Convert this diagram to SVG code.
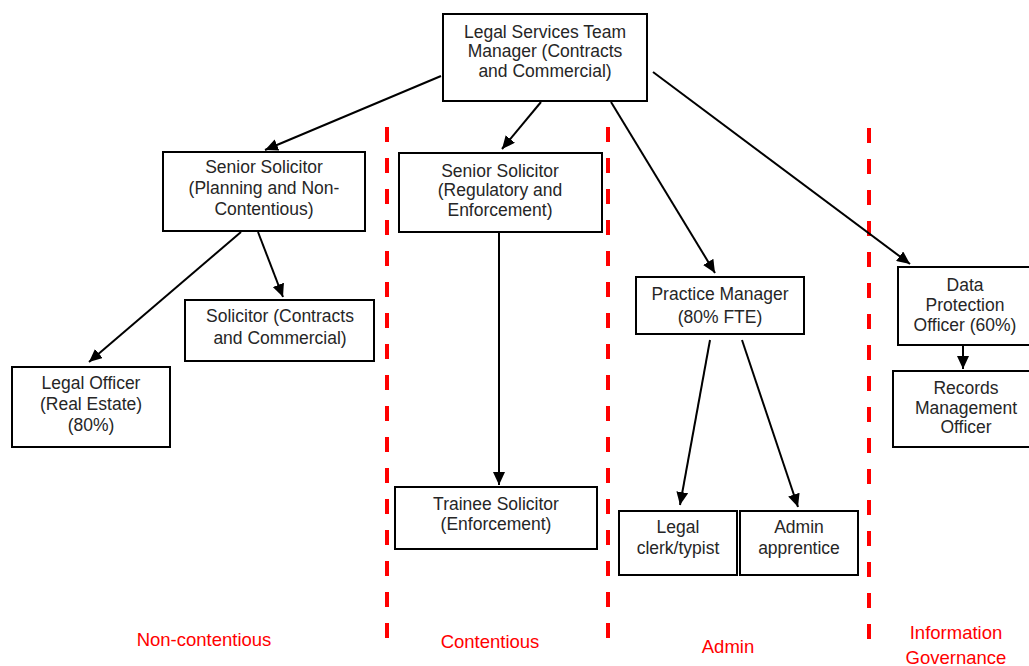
<svg xmlns="http://www.w3.org/2000/svg" width="1029" height="666" viewBox="0 0 1029 666">
<defs>
<marker id="ah" markerUnits="userSpaceOnUse" markerWidth="14" markerHeight="12" refX="13" refY="6" orient="auto">
<path d="M0,0 L13,6 L0,12 Z" fill="#000"/>
</marker>
<style>
.box{fill:#fff;stroke:#000;stroke-width:2}
.t{font-family:"Liberation Sans",Arial,sans-serif;font-size:17.5px;fill:#262626;text-anchor:middle}
.r{font-family:"Liberation Sans",Arial,sans-serif;font-size:18.5px;fill:#ff0000;text-anchor:middle}
.c{stroke:#000;stroke-width:2;fill:none;marker-end:url(#ah)}
.d{stroke:#ff0000;stroke-width:4;stroke-dasharray:15 16;fill:none}
</style>
</defs>
<rect width="1029" height="666" fill="#fff"/>
<g id="dividers">
<line class="d" x1="387" y1="127" x2="387" y2="640"/>
<line class="d" x1="608" y1="127" x2="608" y2="640"/>
<line class="d" x1="869" y1="128" x2="869" y2="640"/>
</g>
<g id="connectors">
<line class="c" x1="441" y1="76" x2="265" y2="150"/>
<line class="c" x1="541" y1="102" x2="502" y2="149"/>
<line class="c" x1="611" y1="102" x2="715" y2="273"/>
<line class="c" x1="653" y1="72" x2="910" y2="264"/>
<line class="c" x1="241" y1="232" x2="89" y2="362"/>
<line class="c" x1="258" y1="232" x2="283" y2="297"/>
<line class="c" x1="499" y1="233" x2="499" y2="485"/>
<line class="c" x1="710" y1="340" x2="680" y2="505"/>
<line class="c" x1="742" y1="340" x2="798" y2="507"/>
<line class="c" x1="963" y1="345" x2="963" y2="369"/>
</g>
<g id="manager">
<rect class="box" x="443" y="14" width="204" height="87"/>
<text class="t" x="545" y="38">Legal Services Team</text>
<text class="t" x="545" y="57">Manager (Contracts</text>
<text class="t" x="545" y="77">and Commercial)</text>
</g>
<g id="ss-planning">
<rect class="box" x="163" y="152" width="202" height="79"/>
<text class="t" x="264" y="173">Senior Solicitor</text>
<text class="t" x="264" y="194">(Planning and Non-</text>
<text class="t" x="264" y="215">Contentious)</text>
</g>
<g id="ss-regulatory">
<rect class="box" x="399" y="153" width="203" height="79"/>
<text class="t" x="500" y="177">Senior Solicitor</text>
<text class="t" x="500" y="196">(Regulatory and</text>
<text class="t" x="500" y="216">Enforcement)</text>
</g>
<g id="solicitor">
<rect class="box" x="185" y="300" width="189" height="61"/>
<text class="t" x="280" y="322">Solicitor (Contracts</text>
<text class="t" x="280" y="344">and Commercial)</text>
</g>
<g id="legal-officer">
<rect class="box" x="12" y="367" width="158" height="80"/>
<text class="t" x="91" y="389">Legal Officer</text>
<text class="t" x="91" y="410">(Real Estate)</text>
<text class="t" x="91" y="431">(80%)</text>
</g>
<g id="trainee">
<rect class="box" x="395" y="487" width="202" height="62"/>
<text class="t" x="496" y="510">Trainee Solicitor</text>
<text class="t" x="496" y="530">(Enforcement)</text>
</g>
<g id="practice-manager">
<rect class="box" x="636" y="277" width="168" height="57"/>
<text class="t" x="720" y="300">Practice Manager</text>
<text class="t" x="720" y="323">(80% FTE)</text>
</g>
<g id="legal-clerk">
<rect class="box" x="619" y="511" width="118" height="64"/>
<text class="t" x="678" y="533">Legal</text>
<text class="t" x="678" y="554">clerk/typist</text>
</g>
<g id="admin-apprentice">
<rect class="box" x="740" y="511" width="118" height="64"/>
<text class="t" x="799" y="533">Admin</text>
<text class="t" x="799" y="554">apprentice</text>
</g>
<g id="data-protection">
<rect class="box" x="898" y="267" width="132" height="78"/>
<text class="t" x="965" y="291">Data</text>
<text class="t" x="965" y="311">Protection</text>
<text class="t" x="965" y="331">Officer (60%)</text>
</g>
<g id="records">
<rect class="box" x="893" y="371" width="137" height="76"/>
<text class="t" x="966" y="394">Records</text>
<text class="t" x="966" y="414">Management</text>
<text class="t" x="966" y="433">Officer</text>
</g>
<g id="labels">
<text class="r" x="204" y="646">Non-contentious</text>
<text class="r" x="490" y="648">Contentious</text>
<text class="r" x="728" y="653">Admin</text>
<text class="r" x="956" y="639">Information</text>
<text class="r" x="956" y="664">Governance</text>
</g>
</svg>
